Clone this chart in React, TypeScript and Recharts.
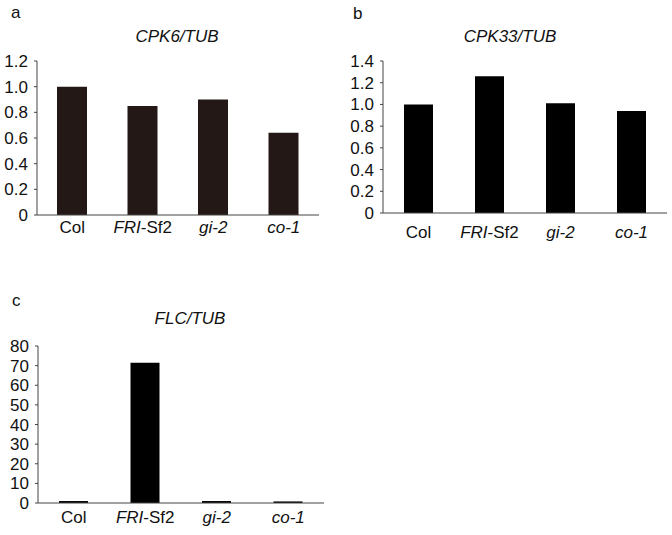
import React from 'react';
import { BarChart, Bar, XAxis, YAxis } from 'recharts';

const genotypes = ['Col', 'FRI-Sf2', 'gi-2', 'co-1'];
const cpk6 = [1.0, 0.85, 0.9, 0.64];
const cpk33 = [1.0, 1.26, 1.01, 0.94];
const flc = [1.0, 71.5, 1.0, 0.8];

const cpk6Ticks = [0, 0.2, 0.4, 0.6, 0.8, 1.0, 1.2];
const cpk33Ticks = [0, 0.2, 0.4, 0.6, 0.8, 1.0, 1.2, 1.4];
const flcTicks = [0, 10, 20, 30, 40, 50, 60, 70, 80];
const dividerTicks = [0, 1, 2, 3, 4];

const FONT = '"Liberation Sans", Arial, Helvetica, sans-serif';
const AXIS = '#444';

function toRows(values: number[]) {
  return genotypes.map((g, i) => ({ name: g, value: values[i] }));
}

function GenotypeTick(props: any) {
  const { x, y, payload } = props;
  const v: string = payload.value;
  let content: React.ReactNode;
  if (v === 'Col') content = <tspan>Col</tspan>;
  else if (v === 'FRI-Sf2')
    content = (
      <>
        <tspan fontStyle="italic">FRI</tspan>
        <tspan>-Sf2</tspan>
      </>
    );
  else content = <tspan fontStyle="italic">{v}</tspan>;
  return (
    <text x={x} y={y} dy={12} textAnchor="middle" fill="#111" fontSize={17} fontFamily={FONT}>
      {content}
    </text>
  );
}

interface PanelProps {
  values: number[];
  ticks: number[];
  fmt: (v: number) => string;
  color: string;
  width: number;
  height: number;
  yWidth: number;
  margin: { top: number; right: number; bottom: number; left: number };
  barSize: number;
  labelGap: number;
}

function Panel({ values, ticks, fmt, color, width, height, yWidth, margin, barSize, labelGap }: PanelProps) {
  const data = toRows(values);
  return (
    <BarChart width={width} height={height} data={data} margin={margin}>
      <XAxis
        xAxisId="axis"
        type="number"
        domain={[0, 4]}
        ticks={dividerTicks}
        height={1}
        tick={false}
        tickSize={4}
        stroke={AXIS}
        axisLine={{ stroke: AXIS }}
        tickLine={{ stroke: AXIS }}
      />
      <XAxis
        xAxisId="labels"
        dataKey="name"
        height={labelGap + 20}
        axisLine={false}
        tickLine={false}
        tickSize={0}
        tickMargin={labelGap}
        tick={<GenotypeTick />}
        interval={0}
      />
      <YAxis
        width={yWidth}
        domain={[ticks[0], ticks[ticks.length - 1]]}
        ticks={ticks}
        tickFormatter={fmt}
        interval={0}
        tickSize={3}
        tickMargin={6}
        stroke={AXIS}
        tick={{ fill: '#111', fontSize: 17, fontFamily: FONT }}
      />
      <Bar xAxisId="labels" dataKey="value" fill={color} barSize={barSize} isAnimationActive={false} />
    </BarChart>
  );
}

const letterStyle: React.CSSProperties = {
  position: 'absolute',
  fontFamily: FONT,
  fontSize: 17,
  color: '#111',
  lineHeight: '17px',
};

const titleStyle: React.CSSProperties = {
  position: 'absolute',
  fontFamily: FONT,
  fontSize: 17,
  fontStyle: 'italic',
  color: '#111',
  lineHeight: '17px',
  width: 200,
  textAlign: 'center',
};

export default function App() {
  const dec = (v: number) => (v === 0 ? '0' : v.toFixed(1));
  return (
    <div style={{ position: 'absolute', left: 0, top: 0, width: 672, height: 535, background: '#fff' }}>
      <div style={{ ...letterStyle, left: 11, top: 4 }}>a</div>
      <div style={{ ...titleStyle, left: 177 - 100, top: 28 }}>CPK6/TUB</div>
      <div style={{ position: 'absolute', left: 0, top: 0 }}>
        <Panel
          values={cpk6}
          ticks={cpk6Ticks}
          fmt={dec}
          color="#231815"
          width={330}
          height={260}
          yWidth={37}
          margin={{ top: 61, right: 11, bottom: 19, left: 0 }}
          barSize={30}
          labelGap={5}
        />
      </div>

      <div style={{ ...letterStyle, left: 353, top: 5 }}>b</div>
      <div style={{ ...titleStyle, left: 510 - 100, top: 28 }}>CPK33/TUB</div>
      <div style={{ position: 'absolute', left: 340, top: 0 }}>
        <Panel
          values={cpk33}
          ticks={cpk33Ticks}
          fmt={dec}
          color="#000"
          width={332}
          height={260}
          yWidth={43}
          margin={{ top: 61, right: 5, bottom: 14, left: 0 }}
          barSize={29}
          labelGap={12}
        />
      </div>

      <div style={{ ...letterStyle, left: 12, top: 292 }}>c</div>
      <div style={{ ...titleStyle, left: 190 - 100, top: 310 }}>FLC/TUB</div>
      <div style={{ position: 'absolute', left: 0, top: 280 }}>
        <Panel
          values={flc}
          ticks={flcTicks}
          fmt={(v) => String(v)}
          color="#000"
          width={340}
          height={255}
          yWidth={38}
          margin={{ top: 66, right: 16, bottom: 4, left: 0 }}
          barSize={29}
          labelGap={7}
        />
      </div>
    </div>
  );
}
